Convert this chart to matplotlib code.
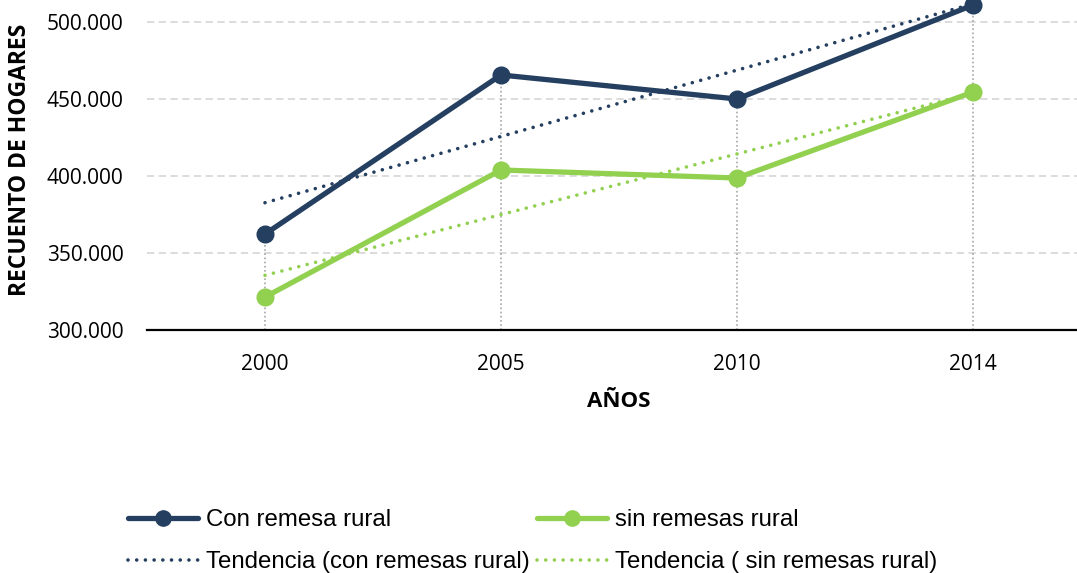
import matplotlib.pyplot as plt
import numpy as np

# data
years = ['2000', '2005', '2010', '2014']
con_remesa = [362300, 465600, 450000, 511000]
sin_remesa = [321400, 403900, 398700, 454500]

navy = '#243F60'
green = '#92D050'

x = np.arange(1, len(years) + 1)

fig = plt.figure(figsize=(10.77, 5.73), dpi=100)
ax = fig.add_axes([147 / 1077, 243 / 573, 944 / 1077, 330 / 573])

# drop lines from the highest point to the axis
tops = np.maximum(con_remesa, sin_remesa)
ax.vlines(x, 300000, tops, colors='#A6A6A6', linestyles=(0, (1, 1.5)), linewidth=1.2, zorder=1)

l1, = ax.plot(x, con_remesa, color=navy, lw=3.8, marker='o', markersize=12,
              solid_capstyle='round', zorder=4, clip_on=False)
l2, = ax.plot(x, sin_remesa, color=green, lw=3.8, marker='o', markersize=12,
              solid_capstyle='round', zorder=4, clip_on=False)

# linear trendlines (like Excel)
c1 = np.polyfit(x, con_remesa, 1)
c2 = np.polyfit(x, sin_remesa, 1)
dots = (0, (0.01, 2.4))
t1, = ax.plot(x[[0, -1]], np.polyval(c1, x[[0, -1]]), color=navy, lw=2.6,
              linestyle=dots, dash_capstyle='round', zorder=3)
t2, = ax.plot(x[[0, -1]], np.polyval(c2, x[[0, -1]]), color=green, lw=2.6,
              linestyle=dots, dash_capstyle='round', zorder=3)

ax.set_xlim(0.5, 4.5)
ax.set_ylim(300000, 514286)
ax.set_yticks([300000, 350000, 400000, 450000, 500000])
ax.set_yticklabels(['{:,.0f}'.format(v).replace(',', '.') for v in ax.get_yticks()],
                   fontfamily='Open Sans', fontsize=15)
ax.set_xticks(x)
ax.set_xticklabels(years, fontfamily='Open Sans', fontsize=15)
ax.tick_params(axis='both', length=0)
ax.tick_params(axis='y', pad=17)
ax.tick_params(axis='x', pad=17)

ax.grid(axis='y', color='#D9D9D9', linestyle=(0, (4, 2.5)), linewidth=1.3)
ax.set_axisbelow(True)
for s in ['left', 'right', 'top']:
    ax.spines[s].set_visible(False)
ax.spines['bottom'].set_linewidth(1.6)
ax.spines['bottom'].set_zorder(2)

ax.set_xlabel('AÑOS', fontfamily='Open Sans', fontweight='bold', fontsize=16, labelpad=12)
fig.text(20 / 1077, 1 - 160 / 573, 'RECUENTO DE HOGARES', rotation=90, ha='center', va='center',
         fontfamily='Open Sans', fontweight='bold', fontsize=16.5)

leg = fig.legend([l1, t1, l2, t2],
                 ['Con remesa rural', 'Tendencia (con remesas rural)',
                  'sin remesas rural', 'Tendencia ( sin remesas rural)'],
                 ncol=2, loc='upper left', bbox_to_anchor=(128 / 1077, 1 - 509 / 573),
                 frameon=False, borderpad=0, borderaxespad=0,
                 handlelength=2.9, handletextpad=0.35, columnspacing=0.3,
                 labelspacing=0.85, prop={'family': 'Liberation Sans', 'size': 17.3})
for h in leg.legend_handles:
    h.set_markersize(11)

fig.savefig('out.png', dpi=100)
